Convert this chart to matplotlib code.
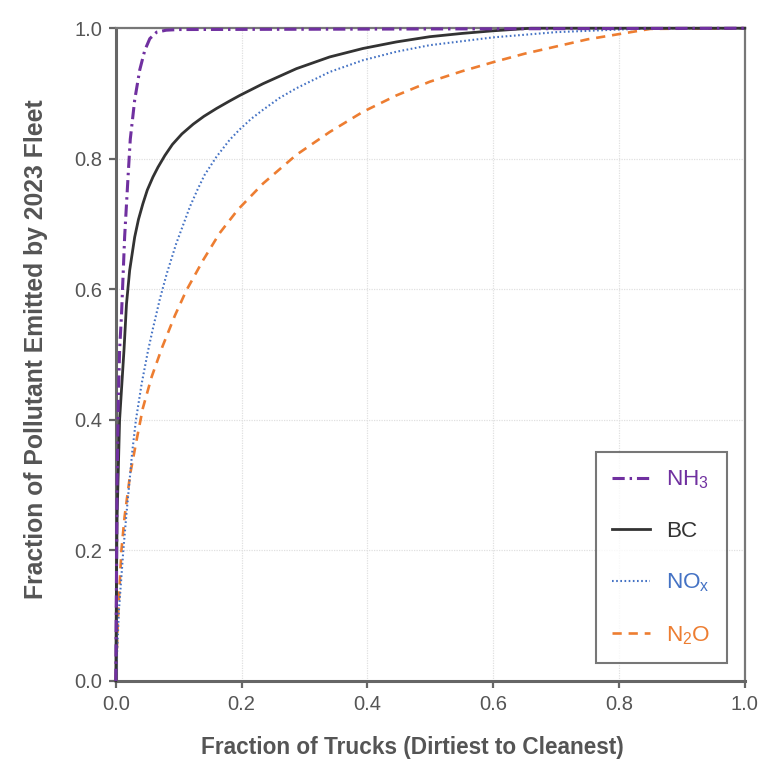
import matplotlib
matplotlib.use("Agg")
import matplotlib.pyplot as plt

plt.rcParams['font.family'] = ['Liberation Sans', 'DejaVu Sans']
plt.rcParams['mathtext.fontset'] = 'custom'
plt.rcParams['mathtext.rm'] = 'Liberation Sans'
plt.rcParams['mathtext.it'] = 'Liberation Sans:italic'
plt.rcParams['mathtext.bf'] = 'Liberation Sans:bold'

# ---- data ----
nh3_x = [0, 0.001, 0.002, 0.004, 0.006, 0.009, 0.014, 0.0196, 0.023, 0.030, 0.038,
         0.046, 0.054, 0.065, 0.08, 0.1, 1.0]
nh3_y = [0, 0.15, 0.30, 0.43, 0.507, 0.560, 0.680, 0.775, 0.830, 0.890, 0.936,
         0.966, 0.984, 0.994, 0.997, 0.998, 1.0]

bc_x = [0, 0.001, 0.002, 0.006, 0.013, 0.017, 0.022, 0.030, 0.036, 0.043, 0.050,
        0.059, 0.067, 0.078, 0.090, 0.105, 0.123, 0.140, 0.160, 0.180, 0.197,
        0.234, 0.287, 0.340, 0.393, 0.446, 0.499, 0.55, 0.599, 0.66, 1.0]
bc_y = [0, 0.15, 0.25, 0.40, 0.507, 0.578, 0.629, 0.680, 0.707, 0.731, 0.752,
        0.772, 0.787, 0.805, 0.822, 0.838, 0.853, 0.865, 0.877, 0.888, 0.897,
        0.915, 0.938, 0.956, 0.969, 0.979, 0.987, 0.992, 0.996, 1.0, 1.0]

nox_x = [0, 0.005, 0.012, 0.017, 0.021, 0.026, 0.032, 0.041, 0.051, 0.059, 0.070,
         0.081, 0.096, 0.118, 0.130, 0.141, 0.160, 0.181, 0.197, 0.215, 0.234,
         0.260, 0.287, 0.340, 0.393, 0.446, 0.499, 0.6, 0.7, 0.8, 0.86, 1.0]
nox_y = [0, 0.109, 0.201, 0.257, 0.298, 0.350, 0.400, 0.455, 0.505, 0.540, 0.585,
         0.624, 0.670, 0.727, 0.753, 0.775, 0.803, 0.829, 0.845, 0.861, 0.875,
         0.893, 0.908, 0.933, 0.951, 0.964, 0.974, 0.986, 0.994, 0.998, 1.0, 1.0]

n2o_x = [0, 0.001, 0.004, 0.009, 0.014, 0.016, 0.023, 0.033, 0.043, 0.057, 0.074,
         0.094, 0.112, 0.139, 0.165, 0.194, 0.234, 0.287, 0.340, 0.393, 0.446,
         0.499, 0.55, 0.6, 0.65, 0.7, 0.75, 0.8, 0.85, 1.0]
n2o_y = [0, 0.03, 0.109, 0.201, 0.252, 0.267, 0.318, 0.369, 0.418, 0.466, 0.512,
         0.560, 0.598, 0.645, 0.686, 0.722, 0.762, 0.806, 0.841, 0.872, 0.897,
         0.918, 0.934, 0.948, 0.961, 0.972, 0.983, 0.991, 0.999, 1.0]

labels = [r'NH$_3$', 'BC', r'NO$_\mathrm{x}$', r'N$_2$O']
colors = ['#7030A0', '#333333', '#4472C4', '#ED7D31']
ticks = [0.0, 0.2, 0.4, 0.6, 0.8, 1.0]
tick_labels = ['0.0', '0.2', '0.4', '0.6', '0.8', '1.0']
xlabel = 'Fraction of Trucks (Dirtiest to Cleanest)'
ylabel = 'Fraction of Pollutant Emitted by 2023 Fleet'

# ---- figure ----
fig = plt.figure(figsize=(7.67, 7.63), dpi=100)
ax = fig.add_axes([0.151, 0.1075, 0.820, 0.8555])

grey = '#555555'
ax.plot(nh3_x, nh3_y, color=colors[0], lw=2.2, dashes=(4, 1.6, 0.8, 1.6),
        label=labels[0], clip_on=False, zorder=5)
ax.plot(bc_x, bc_y, color=colors[1], lw=2.0, ls='-', label=labels[1],
        clip_on=False, zorder=4)
ax.plot(nox_x, nox_y, color=colors[2], lw=1.5, dashes=(0.8, 1.2),
        label=labels[2], clip_on=False, zorder=3)
ax.plot(n2o_x, n2o_y, color=colors[3], lw=1.9, dashes=(3.5, 2.6),
        label=labels[3], clip_on=False, zorder=2)

ax.set_xlim(0, 1)
ax.set_ylim(0, 1)
ax.set_xticks(ticks)
ax.set_xticklabels(tick_labels)
ax.set_yticks(ticks)
ax.set_yticklabels(tick_labels)
ax.grid(True, color='#e0e0e0', lw=0.9, ls=(0, (1, 1)))
ax.set_axisbelow(True)

ax.tick_params(axis='both', which='major', labelsize=14.5, labelcolor=grey,
               color='#666666', length=5, width=1.6, direction='out', pad=5)
for side in ['left', 'bottom']:
    ax.spines[side].set_color('#666666')
    ax.spines[side].set_linewidth(2.2)
for side in ['top', 'right']:
    ax.spines[side].set_color('#777777')
    ax.spines[side].set_linewidth(1.6)

ax.set_xlabel(xlabel, fontsize=16.3, fontweight='bold', color=grey)
ax.set_ylabel(ylabel, fontsize=17.8, fontweight='bold', color=grey)
ax.xaxis.set_label_coords(0.472, -0.084)
ax.yaxis.set_label_coords(-0.108, 0.508)

leg = ax.legend(loc='lower right', bbox_to_anchor=(0.971, 0.028),
                fontsize=16.2, frameon=True, fancybox=False, handlelength=1.66,
                handletextpad=0.72, labelspacing=1.32, borderpad=0.72,
                borderaxespad=0)
leg.get_frame().set_edgecolor('#555555')
leg.get_frame().set_linewidth(1.5)
for txt, c in zip(leg.get_texts(), colors):
    txt.set_color(c)

fig.savefig('out.png', dpi=100)
